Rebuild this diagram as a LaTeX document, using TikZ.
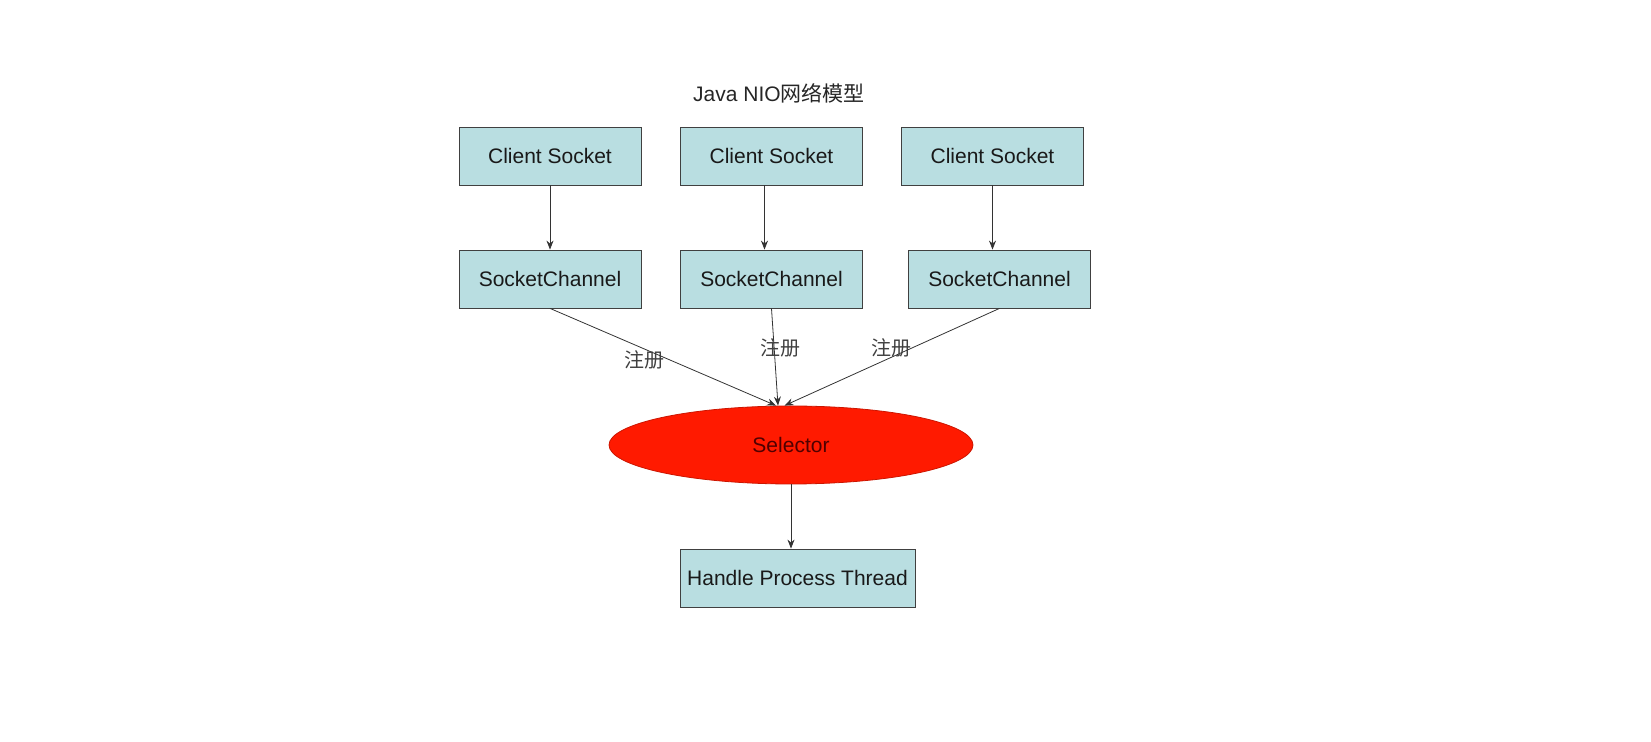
\documentclass[tikz,border=0pt]{standalone}
\usepackage{fontspec}
\setmainfont{Liberation Sans}
\newfontfamily\cjkfont{Noto Sans CJK SC}
\usepackage{tikz}
\usetikzlibrary{arrows.meta,shapes.geometric}
\definecolor{channelblue}{RGB}{185,222,225}
\definecolor{selectorred}{RGB}{255,26,0}
\definecolor{edgegray}{RGB}{64,64,64}
\newcommand{\boxwidth}{91pt}
\newcommand{\boxheight}{29pt}

\begin{document}
\begin{tikzpicture}[x=0.5pt,y=-0.5pt,
  sockbox/.style={draw=edgegray, fill=channelblue, minimum width=\boxwidth, minimum height=\boxheight, inner sep=0pt, font=\fontsize{10.5}{12}\selectfont, text=black!90},
  arr/.style={draw=black!80, -{Stealth[length=4.5pt,width=3.5pt]}},
  lbl/.style={text=edgegray, font=\cjkfont\fontsize{10}{12}\selectfont}]
\useasboundingbox (0,0) rectangle (1651,742);
\node[font=\fontsize{10.5}{12}\selectfont, text=black!85] (title) at (779, 93) {Java NIO{\cjkfont 网络模型}};
\node[sockbox] (c1) at (550, 156) {Client Socket};
\node[sockbox] (c2) at (771.5, 156) {Client Socket};
\node[sockbox] (c3) at (992.5, 156) {Client Socket};
\node[sockbox] (s1) at (550, 279) {SocketChannel};
\node[sockbox] (s2) at (771.5, 279) {SocketChannel};
\node[sockbox] (s3) at (999.5, 279) {SocketChannel};
\node[ellipse, draw=selectorred!80!black, fill=selectorred, minimum width=182pt, minimum height=39pt, inner sep=0pt, font=\fontsize{10.5}{12}\selectfont, text={rgb,255:red,80;green,0;blue,0}] (sel) at (791, 445) {Selector};
\node[sockbox, minimum width=117.5pt] (h) at (797.5, 578) {Handle Process Thread};
%client socket to channel
\draw[arr] (c1.south) -- (s1.north);
\draw[arr] ([xshift=-3.5pt]c2.south) -- ([xshift=-3.5pt]s2.north);
\draw[arr] (c3.south) -- (c3.south |- s3.north);
%register
\draw[arr] (s1.south) -- ([xshift=-7.5pt]sel.north);
\draw[arr] (s2.south) -- ([xshift=-6.5pt]sel.north);
\draw[arr] (s3.south) -- ([xshift=-3.25pt]sel.north);
\node[lbl] (r1) at (644, 360) {注册};
\node[lbl] (r2) at (780, 347.5) {注册};
\node[lbl] (r3) at (891, 347.5) {注册};
%selector to thread
\draw[arr] (sel.south) -- (sel.south |- h.north);
\end{tikzpicture}
\end{document}
